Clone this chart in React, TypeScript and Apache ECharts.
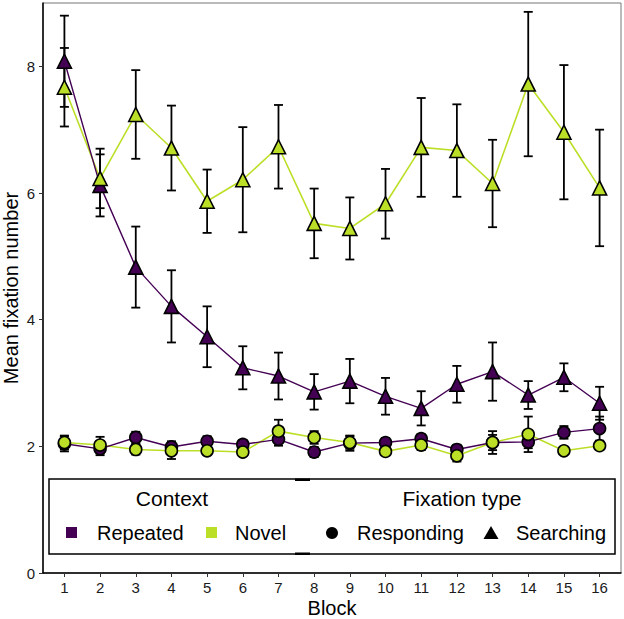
import React, { useEffect, useRef } from "react";
import * as echarts from "echarts";

const BLOCKS = [1, 2, 3, 4, 5, 6, 7, 8, 9, 10, 11, 12, 13, 14, 15, 16];
const Y_TICKS = [0, 2, 4, 6, 8];

const REP_SEARCH = [8.08, 6.12, 4.83, 4.21, 3.73, 3.24, 3.11, 2.86, 3.03, 2.79, 2.6, 2.98, 3.18, 2.81, 3.09, 2.68];
const REP_SEARCH_SE = [0.72, 0.49, 0.64, 0.57, 0.48, 0.34, 0.37, 0.28, 0.35, 0.29, 0.27, 0.29, 0.46, 0.22, 0.22, 0.26];
const NOV_SEARCH = [7.67, 6.23, 7.24, 6.71, 5.87, 6.21, 6.73, 5.52, 5.44, 5.83, 6.72, 6.67, 6.15, 7.72, 6.96, 6.08];
const NOV_SEARCH_SE = [0.62, 0.47, 0.7, 0.67, 0.5, 0.83, 0.66, 0.55, 0.49, 0.55, 0.78, 0.73, 0.69, 1.14, 1.06, 0.92];
const REP_RESP = [2.04, 1.96, 2.14, 1.99, 2.08, 2.03, 2.11, 1.91, 2.05, 2.06, 2.12, 1.95, 2.06, 2.07, 2.22, 2.28];
const REP_RESP_SE = [0.12, 0.1, 0.09, 0.09, 0.08, 0.07, 0.1, 0.08, 0.12, 0.07, 0.07, 0.07, 0.18, 0.1, 0.1, 0.19];
const NOV_RESP = [2.06, 2.02, 1.95, 1.93, 1.93, 1.91, 2.24, 2.14, 2.06, 1.92, 2.02, 1.85, 2.06, 2.19, 1.93, 2.01];
const NOV_RESP_SE = [0.11, 0.13, 0.08, 0.13, 0.07, 0.06, 0.18, 0.1, 0.1, 0.06, 0.08, 0.09, 0.12, 0.28, 0.05, 0.06];

const PURPLE = "#440154";
const GREEN = "#BBDF27";
const FONT = "Liberation Sans";

function pts(vals: number[]) {
  return BLOCKS.map((b, i) => [b, vals[i]]);
}
function bars(vals: number[], se: number[]) {
  return BLOCKS.map((b, i) => [b, vals[i], vals[i] - se[i], vals[i] + se[i]]);
}

function errSeries(vals: number[], se: number[]) {
  return {
    type: "custom",
    data: bars(vals, se),
    encode: { x: 0, y: [2, 3] },
    z: 2,
    renderItem: (params: any, api: any) => {
      const x = api.value(0);
      const lo = api.coord([x, api.value(2)]);
      const hi = api.coord([x, api.value(3)]);
      const w = 4.5;
      const st = { stroke: "#000", lineWidth: 1.8 };
      return {
        type: "group",
        children: [
          { type: "line", shape: { x1: lo[0], y1: lo[1], x2: hi[0], y2: hi[1] }, style: st },
          { type: "line", shape: { x1: lo[0] - w, y1: lo[1], x2: lo[0] + w, y2: lo[1] }, style: st },
          { type: "line", shape: { x1: hi[0] - w, y1: hi[1], x2: hi[0] + w, y2: hi[1] }, style: st },
        ],
      };
    },
  };
}

function lineSeries(vals: number[], color: string, width: number) {
  return {
    type: "line",
    data: pts(vals),
    symbol: "none",
    z: 1,
    lineStyle: { color, width },
  };
}

function pointSeries(vals: number[], color: string, symbol: string, size: number) {
  return {
    type: "scatter",
    data: pts(vals),
    symbol,
    symbolSize: size,
    z: 3,
    itemStyle: { color, borderColor: "#000", borderWidth: 1.6, opacity: 1 },
  };
}

export default function App() {
  const ref = useRef<HTMLDivElement>(null);
  useEffect(() => {
    if (!ref.current) return;
    const chart = echarts.init(ref.current, null, { renderer: "svg" });
    const legendText = { fontFamily: FONT, fontSize: 20, fill: "#000" };
    const legendTitle = { fontFamily: FONT, fontSize: 21, fill: "#000" };
    chart.setOption({
      animation: false,
      backgroundColor: "#fff",
      textStyle: { fontFamily: FONT },
      grid: {
        left: 43,
        right: 3,
        top: 3,
        bottom: 46,
        show: true,
        borderColor: "#777",
        borderWidth: 1,
        containLabel: false,
        outerBoundsMode: "none",
      },
      xAxis: {
        type: "value",
        min: 0.4,
        max: 16.6,
        name: "Block",
        nameLocation: "middle",
        nameGap: 25,
        nameMoveOverlap: false,
        nameTextStyle: { fontSize: 20, lineHeight: 20, color: "#000", fontFamily: FONT },
        axisLine: { show: true, onZero: false, lineStyle: { color: "#000", width: 1.5 } },
        axisTick: { show: true, customValues: BLOCKS, length: 4, lineStyle: { color: "#333", width: 1 } },
        axisLabel: { customValues: BLOCKS, fontSize: 15, color: "#1a1a1a", margin: 7, fontFamily: FONT },
        splitLine: { show: false },
      },
      yAxis: {
        type: "value",
        min: 0,
        max: 9,
        name: "Mean fixation number",
        nameLocation: "middle",
        nameGap: 22,
        nameMoveOverlap: false,
        nameTextStyle: { fontSize: 20, lineHeight: 20, color: "#000", fontFamily: FONT },
        axisLine: { show: true, onZero: false, lineStyle: { color: "#000", width: 1.5 } },
        axisTick: { show: true, customValues: Y_TICKS, length: 4, lineStyle: { color: "#333", width: 1 } },
        axisLabel: { customValues: Y_TICKS, fontSize: 15, color: "#1a1a1a", margin: 8, fontFamily: FONT },
        splitLine: { show: false },
      },
      series: [
        lineSeries(NOV_SEARCH, GREEN, 1.6),
        lineSeries(REP_SEARCH, PURPLE, 1.4),
        lineSeries(NOV_RESP, GREEN, 1.6),
        lineSeries(REP_RESP, PURPLE, 1.4),
        errSeries(NOV_SEARCH, NOV_SEARCH_SE),
        errSeries(REP_SEARCH, REP_SEARCH_SE),
        errSeries(NOV_RESP, NOV_RESP_SE),
        errSeries(REP_RESP, REP_RESP_SE),
        pointSeries(REP_SEARCH, PURPLE, "triangle", 14),
        pointSeries(NOV_SEARCH, GREEN, "triangle", 14),
        pointSeries(REP_RESP, PURPLE, "circle", 12),
        pointSeries(NOV_RESP, GREEN, "circle", 12),
      ],
      graphic: [
        { type: "rect", z: 10, shape: { x: 49, y: 479, width: 566, height: 75 }, style: { fill: "#fff", stroke: "#000", lineWidth: 1.5 } },
        { type: "rect", z: 11, shape: { x: 295, y: 478.5, width: 15, height: 2.5 }, style: { fill: "#000" } },
        { type: "rect", z: 11, shape: { x: 295, y: 552.5, width: 15, height: 2.5 }, style: { fill: "#000" } },
        { type: "text", z: 11, x: 172, y: 498, style: { ...legendTitle, text: "Context", align: "center", verticalAlign: "middle" } },
        { type: "text", z: 11, x: 462, y: 498, style: { ...legendTitle, text: "Fixation type", align: "center", verticalAlign: "middle" } },
        { type: "rect", z: 11, shape: { x: 66, y: 527, width: 11, height: 11 }, style: { fill: PURPLE } },
        { type: "text", z: 11, x: 97, y: 533, style: { ...legendText, text: "Repeated", align: "left", verticalAlign: "middle" } },
        { type: "rect", z: 11, shape: { x: 206, y: 527, width: 11, height: 11 }, style: { fill: GREEN } },
        { type: "text", z: 11, x: 235, y: 533, style: { ...legendText, text: "Novel", align: "left", verticalAlign: "middle" } },
        { type: "circle", z: 11, shape: { cx: 332, cy: 533, r: 6 }, style: { fill: "#000" } },
        { type: "text", z: 11, x: 357, y: 533, style: { ...legendText, text: "Responding", align: "left", verticalAlign: "middle" } },
        { type: "polygon", z: 11, shape: { points: [[491, 526], [498.5, 539], [483.5, 539]] }, style: { fill: "#000" } },
        { type: "text", z: 11, x: 516, y: 533, style: { ...legendText, text: "Searching", align: "left", verticalAlign: "middle" } },
      ],
    });
    return () => chart.dispose();
  }, []);
  return <div ref={ref} style={{ position: "fixed", left: 0, top: 0, width: 624, height: 619 }} />;
}
